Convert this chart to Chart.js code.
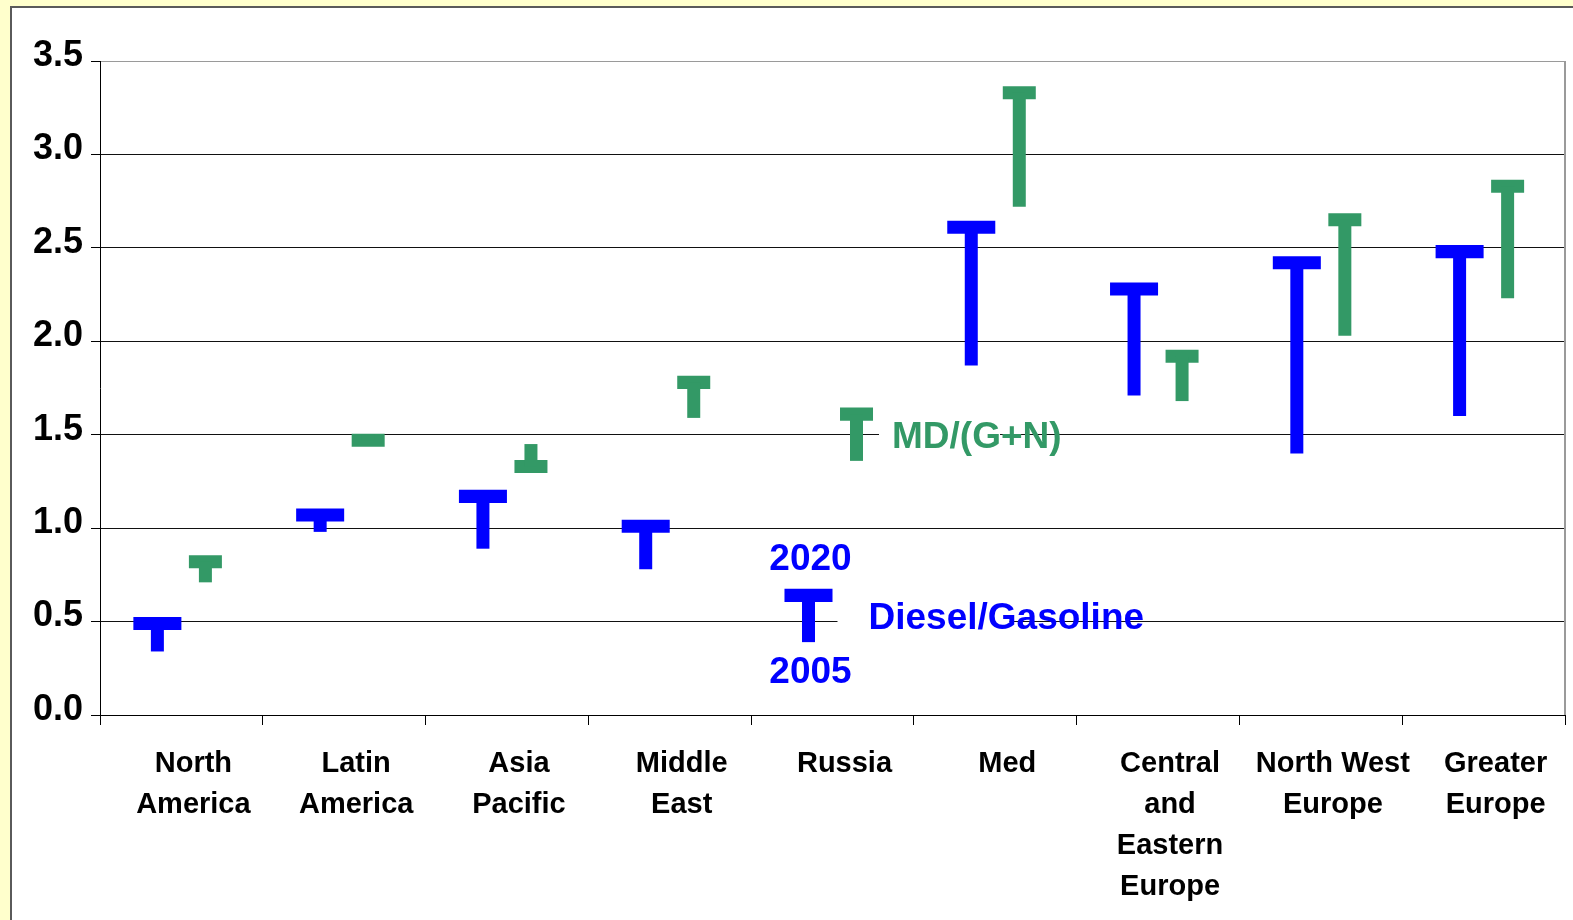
<!DOCTYPE html>
<html>
<head>
<meta charset="utf-8">
<script src="https://cdn.jsdelivr.net/npm/chart.js@4.4.1/dist/chart.umd.min.js"></script>
<style>
  html, body { margin: 0; padding: 0; background: #ffffcc; }
  #wrap { position: relative; width: 1573px; height: 920px; }
</style>
</head>
<body>
<div id="wrap"><canvas id="ratioChart"></canvas></div>
<script>
const regions = [['North', 'America'], ['Latin', 'America'], ['Asia', 'Pacific'], ['Middle', 'East'], 'Russia', 'Med',
  ['Central', 'and', 'Eastern', 'Europe'], ['North West', 'Europe'], ['Greater', 'Europe']];
// Diesel/Gasoline ratio, 2005 (foot of the T) and 2020 (bar of the T)
const diesel2005 = [0.34, 0.98, 0.89, 0.78, 0.39, 1.87, 1.71, 1.40, 1.60];
const diesel2020 = [0.49, 1.07, 1.17, 1.01, 0.64, 2.61, 2.28, 2.42, 2.48];
// Middle distillates / (gasoline + naphtha)
const md2005 = [0.71, 1.50, 1.45, 1.59, 1.36, 2.72, 1.68, 2.03, 2.23];
const md2020 = [0.82, 1.47, 1.33, 1.78, 1.61, 3.33, 1.92, 2.65, 2.83];
const yTicks = [0, 0.5, 1.0, 1.5, 2.0, 2.5, 3.0, 3.5];

const BLUE = '#0000ff';
const GREEN = '#339966';
const CAP = 0.035; // half thickness of the T bar, in axis units
const FONT = '"Liberation Sans", Arial, sans-serif';
const russia = regions.indexOf('Russia');

const panel = {
  id: 'panel',
  beforeDraw(chart) {
    const { ctx, width, height } = chart;
    ctx.save();
    ctx.fillStyle = '#ffffcc';
    ctx.fillRect(0, 0, width, height);
    ctx.fillStyle = '#ffffff';
    ctx.fillRect(10, 6, width - 10, height - 6);
    ctx.strokeStyle = '#5a5a5a';
    ctx.lineWidth = 2;
    ctx.beginPath();
    ctx.moveTo(11, height);
    ctx.lineTo(11, 7);
    ctx.lineTo(width, 7);
    ctx.stroke();
    ctx.restore();
  },
  afterDraw(chart) {
    const { ctx, chartArea } = chart;
    ctx.save();
    ctx.strokeStyle = '#9a9a9a';
    ctx.lineWidth = 2;
    ctx.beginPath();
    ctx.moveTo(chartArea.right, chartArea.top);
    ctx.lineTo(chartArea.right, chartArea.bottom);
    ctx.stroke();
    ctx.restore();
  }
};

const notes = {
  id: 'notes',
  afterDatasetsDraw(chart) {
    const { ctx } = chart;
    const y = chart.scales.y;
    const stem = chart.getDatasetMeta(0).data[russia];
    const cap = chart.getDatasetMeta(3).data[russia];
    const mdX = cap.x + cap.width / 2 + 19;
    const dgX = stem.x + 60;
    ctx.save();
    // the label boxes hide part of the gridlines
    ctx.fillStyle = '#ffffff';
    ctx.fillRect(mdX - 13, y.getPixelForValue(1.5) - 2, 121, 4);
    ctx.fillRect(dgX - 31, y.getPixelForValue(0.5) - 2, 172, 4);

    ctx.font = 'bold 37px ' + FONT;
    ctx.textBaseline = 'alphabetic';
    ctx.textAlign = 'left';
    ctx.fillStyle = GREEN;
    ctx.fillText('MD/(G+N)', mdX, y.getPixelForValue(md2020[russia]) + 34);
    ctx.fillStyle = BLUE;
    ctx.fillText('Diesel/Gasoline', dgX, y.getPixelForValue(diesel2020[russia]) + 34);
    ctx.textAlign = 'center';
    ctx.fillText('2020', stem.x + 2, y.getPixelForValue(diesel2020[russia]) - 25);
    ctx.fillText('2005', stem.x + 2, y.getPixelForValue(diesel2005[russia]) + 41);
    ctx.restore();
  }
};

new Chart(document.getElementById('ratioChart'), {
  type: 'bar',
  data: {
    labels: regions,
    datasets: [
      {
        label: 'Diesel/Gasoline',
        data: regions.map((_, k) => [diesel2005[k], diesel2020[k]]),
        stack: 'diesel',
        backgroundColor: BLUE,
        maxBarThickness: 13
      },
      {
        label: 'MD/(G+N)',
        data: regions.map((_, k) => [md2005[k], md2020[k]]),
        stack: 'md',
        backgroundColor: GREEN,
        maxBarThickness: 13
      },
      {
        label: 'Diesel/Gasoline 2020',
        data: diesel2020.map(v => [v - CAP, v + CAP]),
        stack: 'diesel',
        backgroundColor: BLUE,
        maxBarThickness: 49
      },
      {
        label: 'MD/(G+N) 2020',
        data: md2020.map(v => [v - CAP, v + CAP]),
        stack: 'md',
        backgroundColor: GREEN,
        maxBarThickness: 33
      }
    ]
  },
  options: {
    responsive: true,
    maintainAspectRatio: false,
    animation: false,
    datasets: {
      bar: { barPercentage: 1, categoryPercentage: 0.59, borderWidth: 0 }
    },
    layout: { padding: { top: 61, right: 8, left: 0, bottom: 0 } },
    plugins: {
      legend: { display: false },
      tooltip: { enabled: false }
    },
    scales: {
      x: {
        offset: true,
        grid: { offset: true, drawOnChartArea: false, color: '#000', tickLength: 10 },
        border: { color: '#000' },
        ticks: {
          color: '#000',
          font: { family: FONT, size: 29, weight: 'bold', lineHeight: 1.41 },
          padding: 19,
          labelOffset: 12,
          maxRotation: 0,
          autoSkip: false
        },
        afterFit: s => { s.height = 205; }
      },
      y: {
        stacked: false,
        min: 0,
        max: 3.5,
        afterBuildTicks: s => { s.ticks = yTicks.map(v => ({ value: v })); },
        grid: {
          color: c => (c.tick && c.tick.value === 3.5 ? '#9a9a9a' : '#111'),
          tickColor: '#000',
          tickLength: 9
        },
        border: { color: '#000' },
        ticks: {
          color: '#000',
          font: { family: FONT, size: 36, weight: 'bold' },
          padding: 8,
          labelOffset: -5,
          callback: v => v.toFixed(1)
        },
        afterFit: s => { s.width = 100; }
      }
    }
  },
  plugins: [panel, notes]
});
</script>
</body>
</html>
